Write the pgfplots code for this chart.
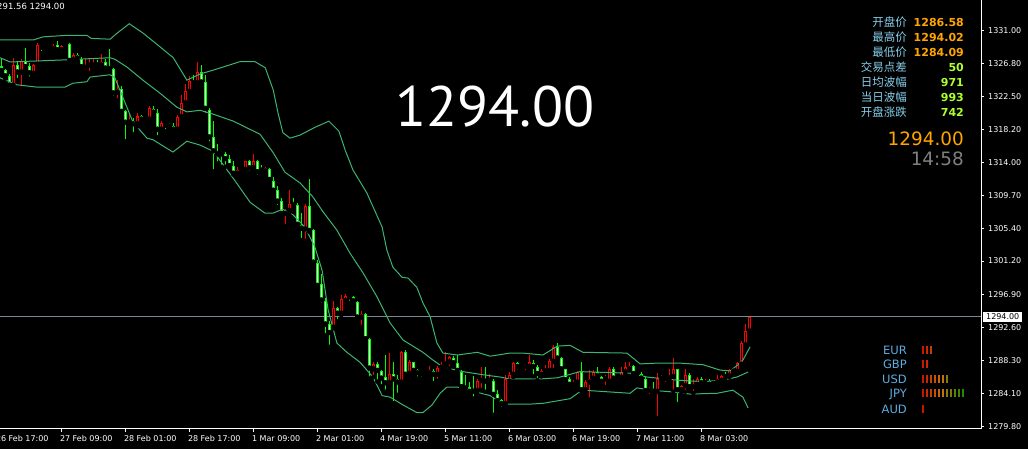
\documentclass[border=0pt]{standalone}
\usepackage{fontspec}
\setmainfont{DejaVu Sans}
\newfontfamily\cjk{Noto Sans CJK SC}
\newfontfamily\bignum{PT Sans}
\usepackage{pgfplots}
\usepackage{pgfplotstable}
\pgfplotsset{compat=1.18}

\definecolor{bandgreen}{HTML}{3CB371}
\definecolor{cgreen}{HTML}{00FF00}
\definecolor{cgreenin}{HTML}{E6FFE6}
\definecolor{cred}{HTML}{FF0000}
\definecolor{pricegray}{HTML}{778899}
\definecolor{lblue}{HTML}{87CEEB}
\definecolor{curblue}{HTML}{5DADE2}
\definecolor{valorange}{HTML}{FFA500}
\definecolor{valgreen}{HTML}{ADFF2F}
\definecolor{clockgray}{HTML}{808080}

\pgfplotsset{colormap={strength}{rgb255=(255,25,0) rgb255=(255,50,0) rgb255=(255,75,0)
  rgb255=(255,100,0) rgb255=(255,125,0) rgb255=(245,145,0) rgb255=(180,150,0)
  rgb255=(150,155,0) rgb255=(120,160,0) rgb255=(80,165,0) rgb255=(50,170,0)}}

% hourly candles: bar index, open, high, low, close
\pgfplotstableread{
i o h l c
0 1326.4 1327.4 1325.5 1325.8
1 1325.9 1326.1 1324.8 1325.1
2 1325.1 1325.4 1323.3 1323.9
3 1323.9 1327.5 1323.8 1326.6
4 1326.6 1327.0 1324.6 1325.6
5 1325.6 1327.4 1323.5 1327.1
6 1327.1 1328.8 1325.9 1326.3
7 1326.4 1326.8 1324.8 1325.5
8 1325.4 1326.7 1325.3 1326.6
9 1326.6 1329.4 1326.3 1329.1
10 1329.1 1329.2 1328.1 1328.8
11 1328.8 1328.9 1328.1 1328.6
12 1328.65 1328.8 1328.6 1328.7
13 1328.6 1329.3 1328.3 1329.0
14 1329.1 1329.7 1328.4 1328.5
15 1328.5 1329.2 1327.9 1329.0
16 1328.9 1329.3 1328.8 1329.2
17 1329.3 1329.4 1327.0 1327.1
18 1327.2 1328.1 1326.8 1327.9
19 1327.9 1328.1 1327.2 1327.4
20 1327.4 1327.6 1326.1 1326.3
21 1326.2 1327.5 1326.1 1326.6
22 1326.5 1327.5 1325.5 1326.6
23 1326.5 1327.4 1325.9 1326.8
24 1326.8 1327.2 1326.2 1326.5
25 1326.5 1328.0 1326.2 1326.9
26 1326.9 1327.3 1325.9 1326.1
27 1326.2 1328.6 1325.8 1326.0
28 1326.1 1326.2 1322.3 1322.9
29 1323.0 1324.6 1322.0 1323.5
30 1323.5 1323.8 1320.1 1320.5
31 1320.6 1320.7 1316.7 1319.1
32 1319.1 1320.4 1318.7 1319.4
33 1319.3 1319.7 1317.6 1318.9
34 1318.9 1320.4 1318.6 1319.9
35 1319.9 1320.1 1319.3 1319.5
36 1319.55 1319.6 1319.4 1319.5
37 1319.5 1321.3 1319.3 1321.0
38 1320.9 1321.2 1320.2 1320.4
39 1320.4 1320.9 1317.2 1318.2
40 1318.2 1319.3 1317.9 1319.0
41 1319.0 1319.1 1318.0 1318.7
42 1318.8 1319.0 1318.4 1318.6
43 1318.7 1319.0 1318.0 1318.2
44 1318.2 1320.1 1317.9 1319.8
45 1319.8 1322.7 1319.6 1321.6
46 1321.6 1324.1 1321.4 1323.2
47 1323.1 1325.2 1322.9 1324.5
48 1324.5 1325.3 1324.0 1324.2
49 1324.2 1326.9 1324.1 1325.6
50 1325.6 1326.6 1324.1 1324.3
51 1324.3 1325.3 1320.1 1320.9
52 1320.8 1321.0 1316.4 1317.2
53 1317.2 1319.3 1312.8 1315.4
54 1315.2 1316.4 1313.8 1315.0
55 1315.1 1315.4 1313.4 1315.0
56 1315.0 1315.3 1313.4 1314.4
57 1314.4 1314.9 1313.3 1313.5
58 1313.5 1314.1 1312.4 1312.5
59 1312.5 1313.4 1312.4 1313.0
60 1313.05 1313.1 1312.9 1313.0
61 1313.0 1314.2 1312.9 1314.1
62 1314.1 1314.3 1312.6 1313.2
63 1313.2 1315.0 1312.9 1314.1
64 1314.2 1314.3 1312.1 1312.7
65 1313.1 1313.6 1312.8 1312.9
66 1312.8 1313.4 1312.5 1313.2
67 1313.1 1313.2 1311.3 1311.7
68 1311.6 1312.1 1310.2 1310.3
69 1310.4 1310.9 1308.2 1308.9
70 1309.0 1309.4 1306.9 1307.3
71 1307.3 1308.0 1305.7 1307.7
72 1307.7 1310.4 1307.3 1308.6
73 1308.6 1309.3 1308.0 1308.4
74 1308.5 1308.7 1305.7 1305.9
75 1305.9 1307.4 1303.9 1305.4
76 1305.3 1308.6 1303.8 1308.3
77 1308.3 1311.8 1305.0 1305.1
78 1305.2 1305.4 1300.8 1301.0
79 1301.0 1301.4 1297.9 1298.0
80 1298.2 1299.5 1295.5 1296.1
81 1296.0 1296.4 1291.6 1293.0
82 1293.1 1293.4 1290.1 1291.9
83 1292.6 1296.0 1292.5 1295.1
84 1295.1 1295.2 1293.4 1294.4
85 1294.4 1296.8 1294.2 1296.25
86 1296.0 1297.0 1295.8 1296.7
87 1296.6 1296.7 1295.8 1296.5
88 1296.5 1296.7 1295.7 1296.0
89 1295.9 1296.0 1293.8 1293.9
90 1293.9 1294.7 1292.7 1294.4
91 1294.4 1294.5 1291.0 1291.1
92 1291.1 1291.2 1286.0 1287.3
93 1287.2 1288.2 1286.2 1287.9
94 1287.9 1288.2 1285.6 1287.0
95 1287.0 1287.1 1285.0 1286.0
96 1286.2 1289.1 1284.3 1285.4
97 1285.4 1289.3 1285.0 1286.6
98 1286.6 1288.1 1282.8 1285.9
99 1286.0 1286.4 1283.9 1285.5
100 1285.5 1289.6 1285.4 1289.5
101 1289.5 1289.7 1286.2 1286.5
102 1286.6 1288.4 1286.2 1288.1
103 1288.1 1288.2 1286.5 1287.0
104 1287.1 1287.3 1286.0 1286.7
105 1286.7 1286.9 1286.0 1286.6
106 1286.65 1286.7 1286.5 1286.6
107 1286.7 1287.6 1286.6 1287.1
108 1287.0 1287.2 1285.4 1286.5
109 1286.5 1287.6 1285.7 1287.4
110 1287.4 1288.1 1286.9 1287.8
111 1287.8 1289.5 1287.5 1288.2
112 1288.1 1288.9 1287.3 1288.8
113 1288.7 1288.9 1287.8 1288.0
114 1288.0 1289.1 1286.8 1287.0
115 1286.9 1287.1 1284.7 1284.9
116 1285.0 1286.5 1284.4 1284.7
117 1284.9 1285.6 1283.9 1284.3
118 1284.7 1286.3 1283.4 1284.3
119 1284.4 1286.0 1284.3 1285.7
120 1285.7 1287.5 1284.5 1286.0
121 1285.9 1287.5 1284.3 1285.6
122 1285.7 1286.6 1285.2 1285.8
123 1285.7 1285.9 1281.3 1283.9
124 1284.0 1284.5 1282.8 1283.1
125 1283.2 1283.4 1282.1 1282.7
126 1282.7 1286.5 1282.7 1285.9
127 1285.6 1286.8 1285.4 1286.5
128 1286.5 1288.2 1286.2 1288.0
129 1288.0 1288.1 1286.9 1287.5
130 1287.45 1287.6 1287.4 1287.5
131 1287.5 1287.8 1286.8 1287.6
132 1287.5 1289.1 1287.5 1288.1
133 1288.0 1288.4 1286.3 1287.5
134 1287.5 1287.8 1285.8 1286.6
135 1286.5 1287.2 1286.3 1287.0
136 1286.9 1287.8 1286.8 1287.2
137 1287.0 1288.5 1286.9 1288.3
138 1288.2 1290.3 1287.1 1290.1
139 1290.1 1290.6 1288.4 1288.6
140 1288.7 1288.8 1287.0 1287.2
141 1287.2 1287.3 1285.6 1285.8
142 1286.0 1286.2 1284.9 1285.2
143 1285.2 1285.8 1284.9 1285.6
144 1285.5 1287.0 1285.3 1286.8
145 1286.8 1288.2 1284.4 1284.5
146 1284.5 1285.8 1284.3 1285.6
147 1285.5 1287.1 1283.3 1286.0
148 1286.0 1287.1 1285.7 1286.8
149 1286.8 1287.5 1286.0 1286.3
150 1286.2 1286.3 1285.5 1285.6
151 1285.9 1286.5 1284.9 1286.0
152 1285.6 1287.5 1285.5 1287.3
153 1287.3 1287.5 1285.8 1286.0
154 1285.95 1286.1 1285.9 1286.0
155 1286.1 1287.5 1286.0 1286.8
156 1286.8 1288.1 1286.6 1287.5
157 1287.2 1288.2 1287.1 1287.6
158 1287.6 1287.8 1286.5 1286.6
159 1286.8 1287.0 1286.2 1286.6
160 1286.6 1286.8 1285.9 1286.0
161 1286.0 1286.2 1284.2 1284.4
162 1284.4 1284.9 1283.7 1284.6
163 1284.6 1285.6 1284.1 1284.3
164 1284.3 1286.7 1280.9 1286.0
165 1286.05 1286.5 1285.6 1286.0
166 1286.0 1286.3 1285.3 1286.1
167 1286.0 1287.2 1285.9 1286.2
168 1286.2 1288.6 1284.3 1287.2
169 1287.2 1287.3 1282.7 1284.5
170 1284.5 1285.2 1284.1 1285.0
171 1285.0 1287.2 1284.3 1286.5
172 1286.5 1286.7 1284.5 1284.9
173 1284.9 1286.0 1284.1 1285.3
174 1285.2 1286.2 1284.7 1286.0
175 1286.0 1286.2 1285.0 1285.4
176 1285.4 1286.0 1285.2 1285.7
177 1285.7 1285.9 1285.0 1285.2
178 1285.3 1285.5 1285.2 1285.4
179 1285.5 1286.5 1285.3 1285.9
180 1285.7 1286.5 1285.6 1286.3
181 1286.3 1286.9 1285.7 1286.2
182 1286.3 1287.2 1286.2 1287.1
183 1287.2 1287.4 1286.7 1286.9
184 1286.9 1288.2 1286.7 1288.0
185 1287.8 1290.8 1287.5 1290.6
186 1290.3 1293.1 1290.1 1292.1
187 1292.1 1294.02 1291.9 1294.0
}\candles

% currency strength panel: position, row level, bar number
\pgfplotstableread{
x y j
230.425 1289.70 0
231.425 1289.70 1
232.425 1289.70 2
230.425 1287.85 0
231.425 1287.85 1
230.425 1285.91 0
231.425 1285.91 1
232.425 1285.91 2
233.425 1285.91 3
234.425 1285.91 4
235.425 1285.91 5
236.425 1285.91 6
230.425 1284.10 0
231.425 1284.10 1
232.425 1284.10 2
233.425 1284.10 3
234.425 1284.10 4
235.425 1284.10 5
236.425 1284.10 6
237.425 1284.10 7
238.425 1284.10 8
239.425 1284.10 9
240.425 1284.10 10
230.425 1282.03 0
}\strength

\begin{document}
\begin{tikzpicture}
\useasboundingbox (0pt,0pt) rectangle (1028pt,449pt);
\fill[black] (0pt,0pt) rectangle (1028pt,449pt);
\begin{axis}[
  at={(0pt,20pt)}, anchor=south west,
  scale only axis, width=981pt, height=429pt,
  xmin=-0.325, xmax=244.925, ymin=1279.48, ymax=1334.97,
  axis x line*=bottom, axis y line*=right,
  axis line style={white, line width=1pt},
  tick align=outside, major tick length=3pt,
  tick style={white, line width=1pt},
  xtick={15,31,47,63,79,95,111,127,143,159,175},
  xticklabels={27 Feb 09:00, 28 Feb 01:00, 28 Feb 17:00, 1 Mar 09:00, 2 Mar 01:00,
    4 Mar 19:00, 5 Mar 11:00, 6 Mar 03:00, 6 Mar 19:00, 7 Mar 11:00, 8 Mar 03:00},
  ytick={1279.8,1284.1,1288.3,1292.6,1296.9,1301.2,1305.4,1309.7,1314.0,1318.2,1322.5,1326.8,1331.0},
  scaled y ticks=false,
  every tick label/.append style={font=\fontsize{8}{9.6}\selectfont, text=white},
  x tick label style={anchor=north west, inner sep=0pt, xshift=-1.5pt, yshift=-3pt},
  y tick label style={anchor=west, inner sep=0pt, xshift=4pt,
    /pgf/number format/.cd, fixed, fixed zerofill, precision=2, 1000 sep={}, assume math mode=true},
]
% bid line
\addplot[pricegray, line width=1pt, forget plot] coordinates {(-0.325,1294) (244.925,1294)};

% wicks
\addplot[only marks, mark=none, forget plot,
  restrict expr to domain={\thisrow{c}-\thisrow{o}}{0:100},
  error bars/.cd, y dir=plus, y explicit, error mark=none,
  error bar style={draw=cred, line width=1pt}]
  table[x=i, y=l, y error expr={\thisrow{h}-\thisrow{l}}] {\candles};
\addplot[only marks, mark=none, forget plot,
  restrict expr to domain={\thisrow{c}-\thisrow{o}}{-100:0},
  error bars/.cd, y dir=plus, y explicit, error mark=none,
  error bar style={draw=cgreen, line width=1pt}]
  table[x=i, y=l, y error expr={\thisrow{h}-\thisrow{l}}] {\candles};

% bodies: outline
\addplot[only marks, mark=none, forget plot,
  restrict expr to domain={\thisrow{c}-\thisrow{o}}{0:100},
  error bars/.cd, y dir=plus, y explicit, error mark=none,
  error bar style={draw=cred, line width=3pt}]
  table[x=i, y expr={min(\thisrow{o},\thisrow{c})},
    y error expr={max(abs(\thisrow{c}-\thisrow{o}),0.13)}] {\candles};
\addplot[only marks, mark=none, forget plot,
  restrict expr to domain={\thisrow{c}-\thisrow{o}}{-100:0},
  error bars/.cd, y dir=plus, y explicit, error mark=none,
  error bar style={draw=cgreen, line width=3pt}]
  table[x=i, y expr={min(\thisrow{o},\thisrow{c})},
    y error expr={max(abs(\thisrow{c}-\thisrow{o}),0.13)}] {\candles};
% bodies: inside
\addplot[only marks, mark=none, forget plot,
  restrict expr to domain={\thisrow{c}-\thisrow{o}}{0:100},
  error bars/.cd, y dir=plus, y explicit, error mark=none,
  error bar style={draw=black, line width=1pt}]
  table[x=i, y expr={min(\thisrow{o},\thisrow{c})+0.13},
    y error expr={max(abs(\thisrow{c}-\thisrow{o})-0.26,0)}] {\candles};
\addplot[only marks, mark=none, forget plot,
  restrict expr to domain={\thisrow{c}-\thisrow{o}}{-100:0},
  error bars/.cd, y dir=plus, y explicit, error mark=none,
  error bar style={draw=cgreenin, line width=1pt}]
  table[x=i, y expr={min(\thisrow{o},\thisrow{c})+0.13},
    y error expr={max(abs(\thisrow{c}-\thisrow{o})-0.26,0)}] {\candles};

% Bollinger bands
\addplot[bandgreen, line width=1pt, forget plot] coordinates {
(-0.3,1329.8) (8,1329.8) (10.4,1330.2) (16.4,1330.4) (21.4,1330.4) (22.5,1330.0)
(27.2,1329.9) (29,1330.7) (32,1331.9) (35.4,1330.7) (39.7,1328.9) (43,1327.5)
(46.4,1324.6) (49.7,1325.4) (53,1325.9) (59.7,1327.0) (63.4,1327.0) (66,1326.2)
(68,1323.3) (69.2,1320.3) (70.4,1317.8) (72.2,1317.1) (74.7,1317.5) (78.4,1318.5)
(81.9,1319.3) (84.4,1318.0) (86,1315.5) (87.9,1313.0) (91.4,1310.0) (95.2,1305.6)
(96.4,1302.6) (97.9,1300.4) (100.2,1299.1) (101.7,1299.0) (103.9,1297.8)
(105.4,1295.8) (107.2,1294.0) (108.9,1290.6) (110.4,1289.3) (114,1289.05)
(119,1289.4) (122.2,1288.9) (127.2,1289.3) (130.4,1289.3) (135.4,1289.05)
(139,1290.2) (142.2,1290.3) (145.4,1289.4) (156.4,1289.3) (159.7,1287.9)
(164,1288.0) (169.7,1288.0) (175.4,1287.8) (179.7,1287.1) (182.2,1287.0)
(184.2,1287.8) (185.4,1288.4) (187.2,1290.1)};
\addplot[bandgreen, line width=1pt, forget plot] coordinates {
(-0.3,1327.5) (2.2,1326.95) (14.7,1327.2) (27.2,1327.5) (28.4,1327.3) (31.4,1326.3)
(35.4,1324.6) (39.7,1322.9) (43.9,1321.1) (46.4,1320.5) (49.7,1320.7) (53,1320.2)
(58,1319.3) (64.7,1317.6) (68,1315.2) (70.9,1312.7) (74.7,1311.3) (77.9,1309.5)
(80.4,1307.6) (83.9,1305.2) (87.2,1302.2) (90.4,1299.7) (93.9,1296.6) (97.2,1293.2)
(100.4,1291.0) (105.4,1289.4) (107.9,1288.4) (110.4,1287.5) (115.4,1286.9)
(120.4,1286.5) (124.7,1286.2) (127.2,1285.95) (134.7,1285.95) (139,1286.1)
(144.7,1286.9) (157.2,1286.7) (161.4,1286.2) (168.9,1285.8) (175.4,1285.6)
(180.4,1285.8) (183.9,1286.2) (186.7,1286.85)};
\addplot[bandgreen, line width=1pt, forget plot] coordinates {
(-0.3,1324.9) (3.9,1324.0) (8.9,1323.7) (15.9,1323.7) (17.9,1324.2) (21.4,1324.4)
(22.2,1325.0) (27.2,1325.3) (28.4,1324.9) (32.9,1319.2) (36.4,1317.1) (37.9,1316.9)
(42.9,1315.3) (46.4,1316.7) (49.7,1316.2) (53,1315.4) (58,1311.9) (62.2,1308.8)
(65.9,1307.4) (67.9,1307.4) (70.4,1307.9) (72.9,1307.2) (75.9,1305.6) (78.4,1303.0)
(80.2,1300.0) (81.7,1294.9) (83.9,1290.6) (86.4,1289.4) (89.7,1288.1) (92.9,1286.2)
(95.2,1283.8) (97.2,1283.6) (100.4,1282.6) (103.9,1281.6) (105.4,1281.6)
(107.7,1282.6) (109.7,1284.1) (111.4,1284.9) (114,1284.9) (122.2,1283.8)
(125.4,1282.7) (132.2,1282.7) (135.4,1282.8) (142.2,1283.4) (145.2,1284.5)
(148.4,1284.4) (157.2,1284.1) (158.9,1284.8) (162.2,1284.5) (167.2,1284.3)
(172.2,1284.0) (178.9,1284.1) (182.9,1284.5) (185.4,1283.6) (186.7,1282.2)};

% currency strength bars
\addplot[scatter, only marks, mark=|, mark size=4pt, colormap name=strength,
  point meta=explicit, point meta min=0, point meta max=10, forget plot,
  mark options={line width=2pt}]
  table[x=x, y=y, meta=j] {\strength};

\coordinate (firsttick) at (axis cs:-1,1279.48);
\end{axis}

% first time label, its tick lies just left of the plot
\node[anchor=north west, inner sep=0pt, font=\fontsize{8}{9.6}\selectfont, text=white]
  at ([xshift=-1.5pt, yshift=-6pt]firsttick) {26 Feb 17:00};

% header text
\node[anchor=east, inner sep=0pt, font=\fontsize{8.5}{10}\selectfont, text=white]
  at (65pt,443pt) {1291.56 1294.00};
\node[inner sep=0pt, font=\bignum\fontsize{57}{57}\selectfont, text=white]
  at (495pt,342pt) {1294.00};

% info panel
\foreach \lab/\val/\col [count=\k] in {开盘价/1286.58/valorange, 最高价/1294.02/valorange,
    最低价/1284.09/valorange, 交易点差/50/valgreen, 日均波幅/971/valgreen,
    当日波幅/993/valgreen, 开盘涨跌/742/valgreen} {
  \node[anchor=east, inner sep=0pt, font=\cjk\fontsize{11.5}{13}\selectfont, text=lblue]
    at (907pt,{(441.5-15*\k)*1pt}) {\lab};
  \node[anchor=east, inner sep=0pt, font=\bfseries\fontsize{11}{13}\selectfont, text=\col]
    at (964pt,{(441.5-15*\k)*1pt}) {\val};
}
\node[anchor=east, inner sep=0pt, font=\fontsize{18.4}{20}\selectfont, text=valorange]
  at (964pt,310.5pt) {1294.00};
\node[anchor=east, inner sep=0pt, font=\fontsize{18.4}{20}\selectfont, text=clockgray]
  at (964pt,290.5pt) {14:58};

% currency labels
\foreach \cur/\yy in {EUR/94.5, GBP/80.2, USD/65.2, JPY/51.2, AUD/35.2} {
  \node[anchor=base east, inner sep=0pt, font=\fontsize{11.5}{13}\selectfont, text=curblue]
    at (907pt,\yy pt) {\cur};
}

% current price tag on the scale
\node[anchor=west, fill=white, text=black, font=\fontsize{8}{9.6}\selectfont,
  inner xsep=3pt, inner ysep=2pt] at (983pt,132.3pt) {1294.00};
\end{tikzpicture}
\end{document}
